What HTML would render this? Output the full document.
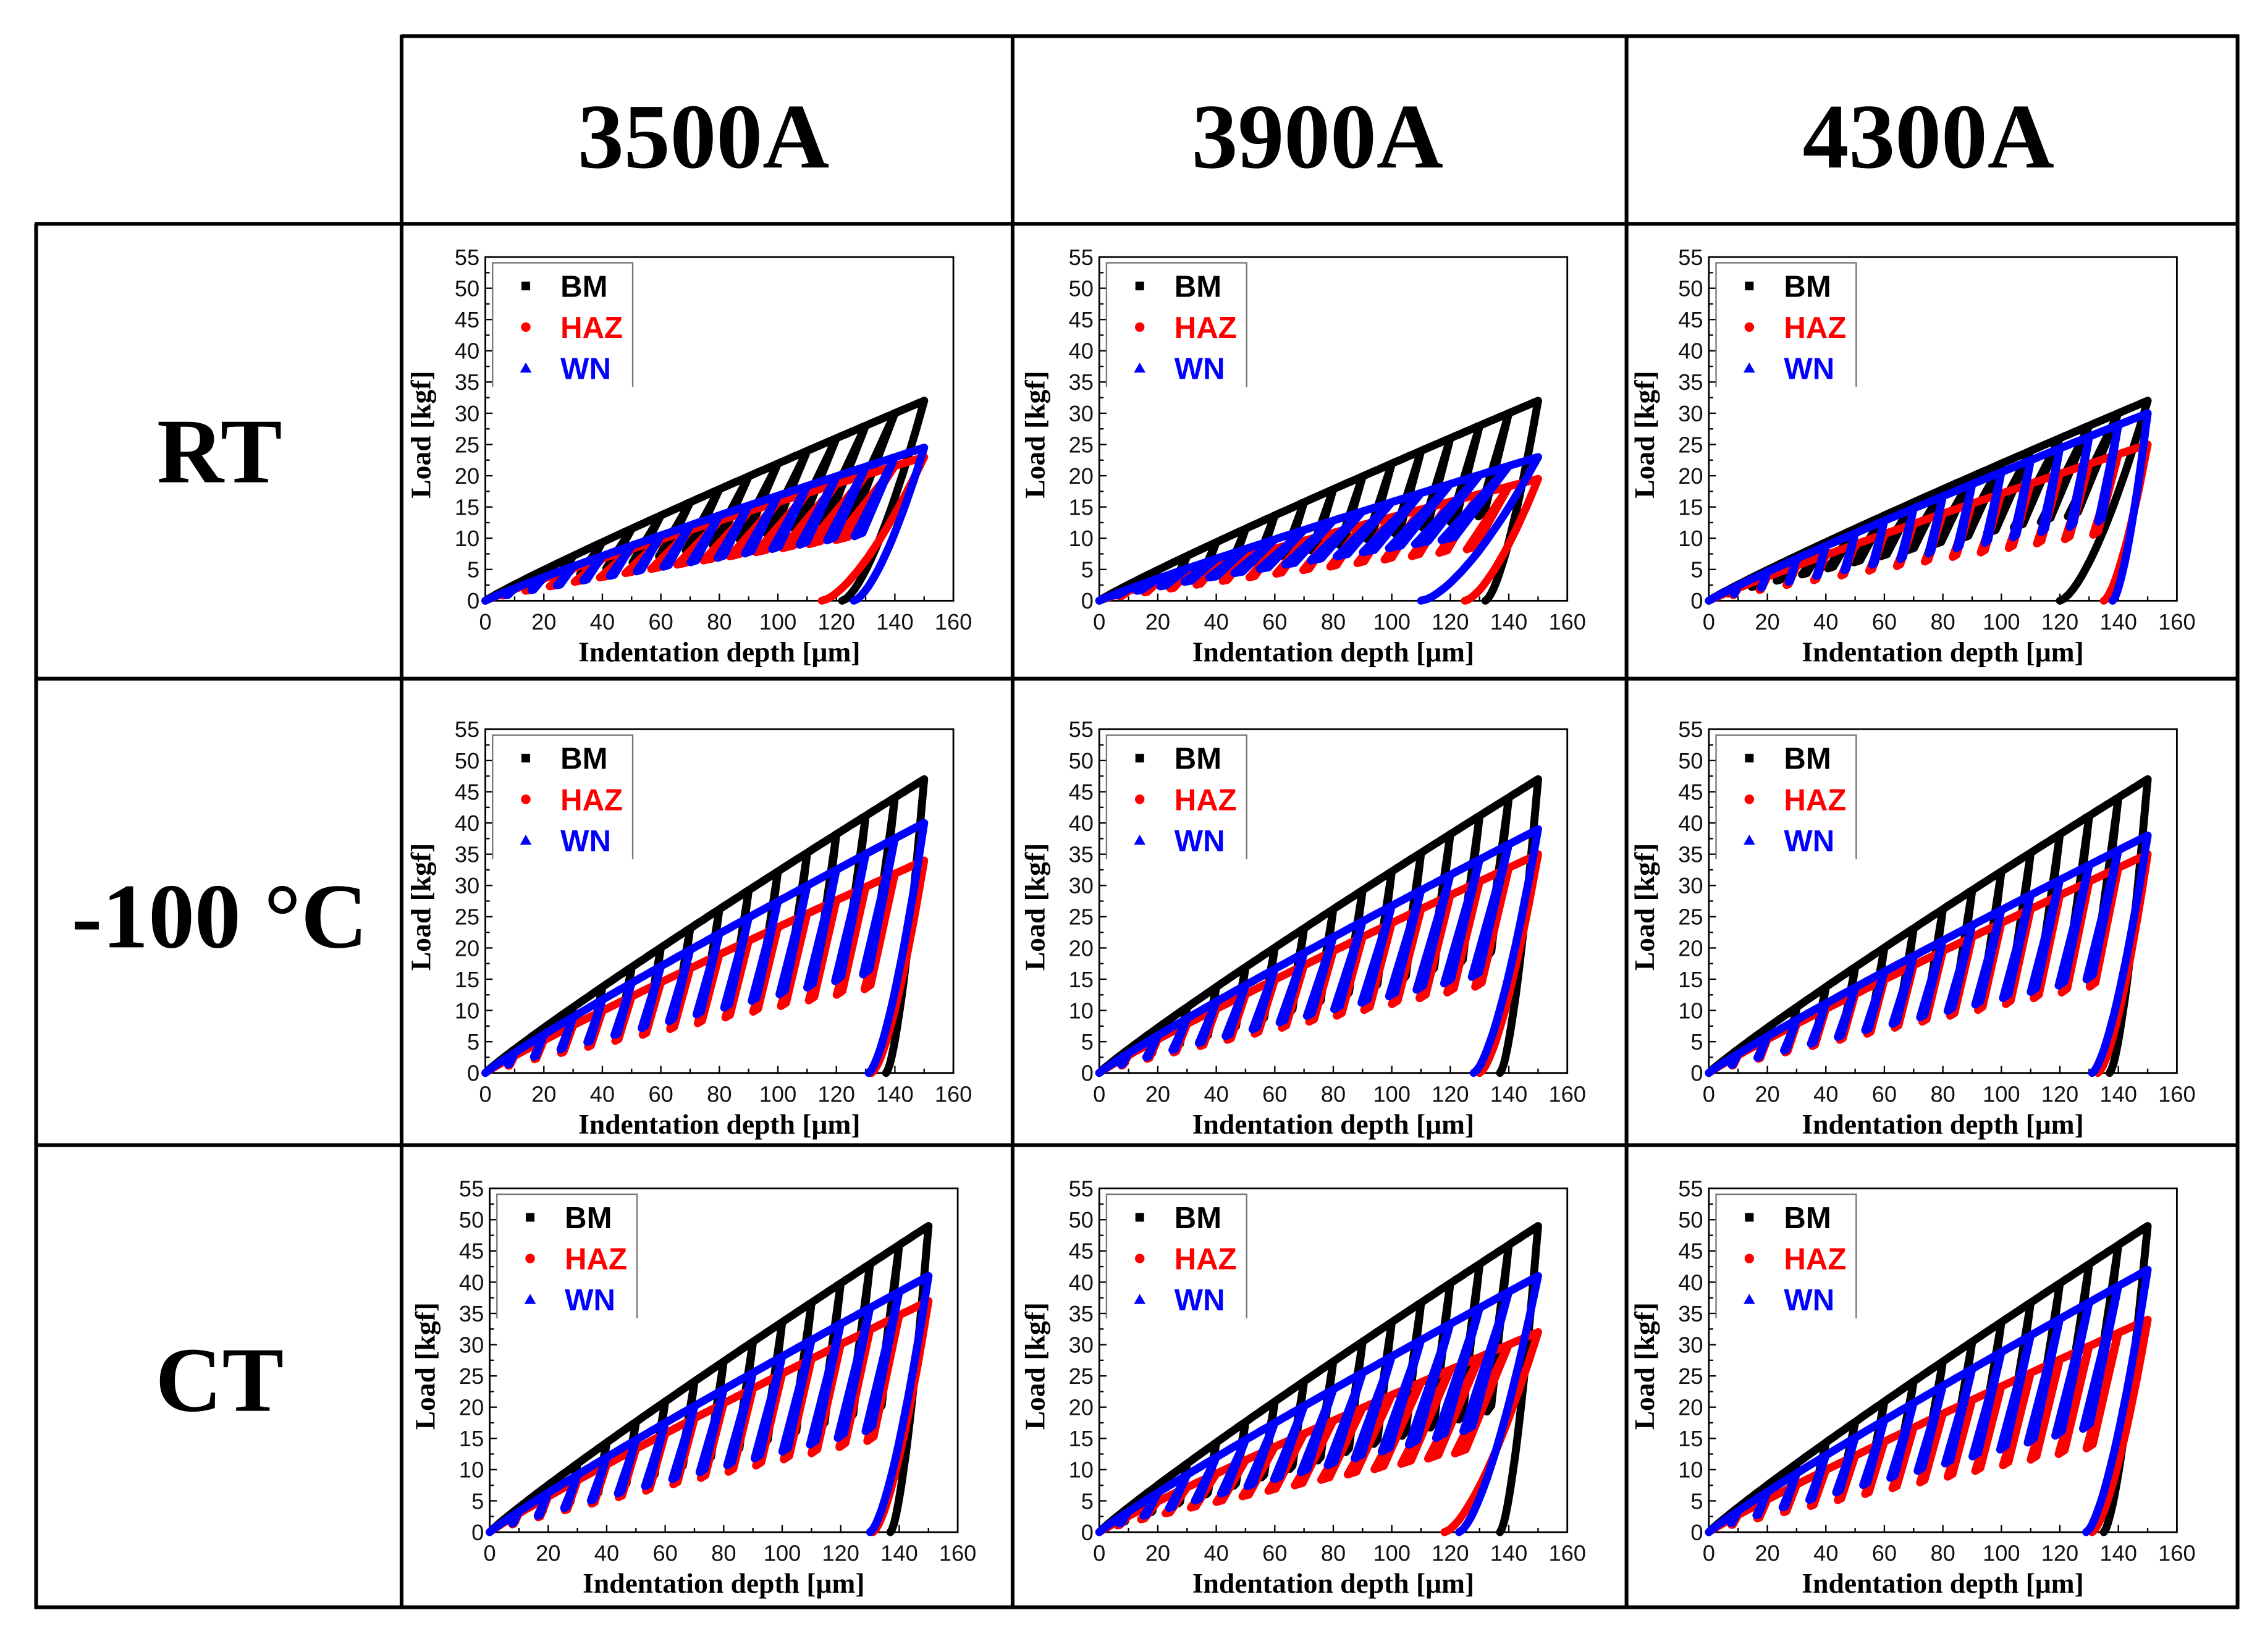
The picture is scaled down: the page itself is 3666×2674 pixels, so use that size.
<!DOCTYPE html>
<html><head><meta charset="utf-8"><style>
html,body{margin:0;padding:0;background:#fff;}
svg{display:block;}
</style></head><body>
<svg id="chart" width="3666" height="2674" viewBox="0 0 1568 1144" preserveAspectRatio="none" xmlns="http://www.w3.org/2000/svg">
<rect x="0" y="0" width="1568" height="1144" fill="#fff"/>
<g id="grid" stroke="#000" stroke-width="2.6">
<line x1="278" y1="25" x2="1550" y2="25"/>
<line x1="24" y1="155" x2="1550" y2="155"/>
<line x1="24" y1="470" x2="1550" y2="470"/>
<line x1="24" y1="793" x2="1550" y2="793"/>
<line x1="24" y1="1113" x2="1550" y2="1113"/>
<line x1="25" y1="155" x2="25" y2="1114"/>
<line x1="278" y1="24" x2="278" y2="1114"/>
<line x1="701" y1="24" x2="701" y2="1114"/>
<line x1="1126" y1="24" x2="1126" y2="1114"/>
<line x1="1549" y1="24" x2="1549" y2="1114"/>
</g>
<g font-family="Liberation Serif, serif" font-weight="bold" font-size="64" text-anchor="middle" fill="#000">
<text x="487" y="116">3500A</text>
<text x="912" y="116">3900A</text>
<text x="1335" y="116">4300A</text>
<text x="152" y="334">RT</text>
<text x="152" y="656">-100 °C</text>
<text x="152" y="977">CT</text>
</g>
<g id="panels"></g>
</svg>
<script>
// Data (kgf, μm)
const xTicks = [0,20,40,60,80,100,120,140,160];
const yTicks = [0,5,10,15,20,25,30,35,40,45,50,55];
const cycleDepths = [10,20,30,40,50,60,70,80,90,100,110,120,130,140];
const seriesNames = ['BM','HAZ','WN'];
const seriesColors = ['#000000','#ff0000','#0000ff'];
const panelNames = ['rt-3500a','rt-3900a','rt-4300a','m100-3500a','m100-3900a','m100-4300a','ct-3500a','ct-3900a','ct-4300a'];
// max load at 150 μm per panel [BM, HAZ, WN]
const bmMax  = [32,32,32, 47,47,47, 49,49,49];
const hazMax = [23,19.5,25, 34,35,35, 37,32,34];
const wnMax  = [24.5,23,30, 40,39,38, 41,41,42];
// residual depth after final unload
const bmRes  = [122,132,120, 137,137,137, 137,137,135];
const hazRes = [115,125,135, 132,130,133, 131,118,131];
const wnRes  = [126,110,138, 131,128,131, 130,123,129];
// partial unload fraction of load
const unloadFrac = [0.45,0.45,0.45, 0.42,0.42,0.42, 0.42,0.42,0.42];

const NS='http://www.w3.org/2000/svg';
const panelsG=document.getElementById('panels');
const colX=[336,761,1183];
const rowY=[178,505,823];
const PW=324, PH=238, HMAX=150;

function mk(tag,attrs,parent){const e=document.createElementNS(NS,tag);for(const k in attrs)e.setAttribute(k,attrs[k]);parent.appendChild(e);return e;}

panelNames.forEach((pn,i)=>{
  const fx=colX[i%3]+(i>=6&&i%3===0?3:0), fy=rowY[Math.floor(i/3)];
  const xs=h=>fx+h/160*PW, ys=p=>fy+PH-p/55*PH;
  const g=mk('g',{},panelsG);
  
  
  const fr=mk('rect',{x:fx,y:fy,width:PW,height:PH,fill:'none',stroke:'#000','stroke-width':1.2},g);
  
  
  yTicks.forEach((t,k)=>{
    mk('line',{x1:fx,x2:fx+5,y1:ys(t),y2:ys(t),stroke:'#000','stroke-width':1},g);
    if(k<yTicks.length-1) mk('line',{x1:fx,x2:fx+3,y1:ys(t+2.5),y2:ys(t+2.5),stroke:'#000','stroke-width':1},g);
    const tx=mk('text',{x:fx-4,y:ys(t)+5.5,'font-family':'Liberation Sans, sans-serif','font-size':15.5,'text-anchor':'end',fill:'#111'},g);
    tx.textContent=t;
    
    
  });
  xTicks.forEach((t,k)=>{
    mk('line',{x1:xs(t),x2:xs(t),y1:fy+PH,y2:fy+PH-5,stroke:'#000','stroke-width':1},g);
    if(k<xTicks.length-1) mk('line',{x1:xs(t+10),x2:xs(t+10),y1:fy+PH,y2:fy+PH-3,stroke:'#000','stroke-width':1},g);
    const tx=mk('text',{x:xs(t),y:fy+PH+20,'font-family':'Liberation Sans, sans-serif','font-size':15.5,'text-anchor':'middle',fill:'#111'},g);
    tx.textContent=t;
    
    
  });
  const xt=mk('text',{x:fx+PW/2,y:fy+PH+42,'font-family':'Liberation Serif, serif','font-weight':'bold','font-size':19.5,'text-anchor':'middle',fill:'#000'},g);
  xt.textContent='Indentation depth [μm]';
  
  
  const yt=mk('text',{x:0,y:0,transform:`translate(${fx-38},${fy+PH/2+4}) rotate(-90)`,'font-family':'Liberation Serif, serif','font-weight':'bold','font-size':19.5,'text-anchor':'middle',fill:'#000'},g);
  yt.textContent='Load [kgf]';
  
  
  const maxes=[bmMax[i],hazMax[i],wnMax[i]], res=[bmRes[i],hazRes[i],wnRes[i]];
  seriesNames.forEach((sn,s)=>{
    const Pm=maxes[s], hr=res[s], f=unloadFrac[i];
    const env=h=>Pm*Math.pow(h/HMAX,0.93);
    let pts=[[0,0]];
    let prev=0;
    cycleDepths.forEach(hc=>{
      for(let h=prev+1;h<=hc;h+=1) pts.push([h,env(h)]);
      const d=0.6*(HMAX-hr)*Math.pow(hc/HMAX,0.6);
      const Pc=env(hc);
      pts.push([hc-d,Pc*f]);
      pts.push([hc-d*0.8,Pc*f*1.05]);
      pts.push([hc,Pc]);
      prev=hc;
    });
    for(let h=prev+1;h<=HMAX;h+=1) pts.push([h,env(h)]);
    for(let k=1;k<=20;k++){const u=1-k/20;pts.push([hr+(HMAX-hr)*u,Pm*Math.pow(u,1.5)]);}
    const d=pts.map((p,k)=>(k?'L':'M')+xs(p[0]).toFixed(1)+' '+ys(p[1]).toFixed(1)).join(' ');
    const path=mk('path',{d:d,fill:'none',stroke:seriesColors[s],'stroke-width':5.5,'stroke-linejoin':'round','stroke-linecap':'round'},g);
    
    
  });
  const lg=mk('g',{},g);
  
  
  mk('rect',{x:fx+5,y:fy+4,width:97,height:86,fill:'#fff'},lg);
  mk('path',{d:`M${fx+5} ${fy+90} L${fx+5} ${fy+4} L${fx+102} ${fy+4} L${fx+102} ${fy+90}`,fill:'none',stroke:'#777','stroke-width':1},lg);
  seriesNames.forEach((sn,s)=>{
    const yy=fy+20+s*28.5;
    if(s===0) mk('rect',{x:fx+25,y:yy-3,width:6,height:6,fill:seriesColors[s]},lg);
    else if(s===1) mk('circle',{cx:fx+28,cy:yy,r:3.3,fill:seriesColors[s]},lg);
    else mk('path',{d:`M${fx+28} ${yy-4} L${fx+32} ${yy+3} L${fx+24} ${yy+3} Z`,fill:seriesColors[s]},lg);
    const t=mk('text',{x:fx+52,y:yy+7.5,'font-family':'Liberation Sans, sans-serif','font-weight':'bold','font-size':21,fill:seriesColors[s]},lg);
    t.textContent=sn;
    
    
  });
});
</script>
</body></html>
